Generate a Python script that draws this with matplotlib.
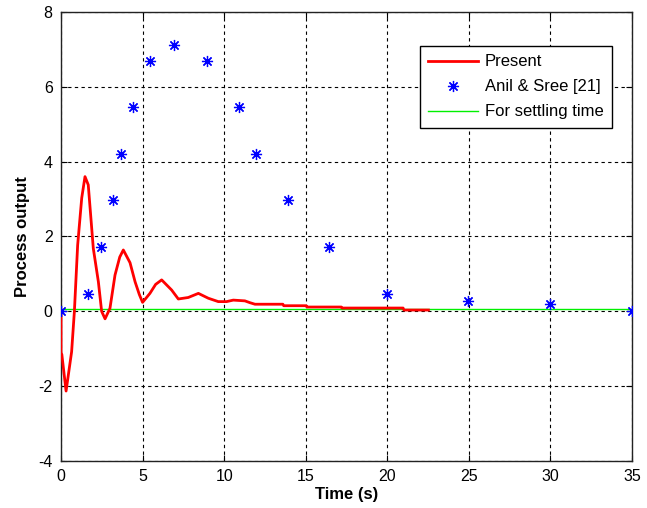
import matplotlib.pyplot as plt

plt.rcParams['font.family'] = ['Liberation Sans', 'DejaVu Sans']
plt.rcParams['axes.unicode_minus'] = False

# present controller response
t_present = [0, 0.0, 0.05, 0.31, 0.65, 0.82, 1.02, 1.27, 1.47, 1.67, 1.98, 2.29,
             2.49, 2.7, 3.0, 3.31, 3.6, 3.82, 4.23, 4.54, 4.8, 5.0, 5.45, 5.8,
             6.17, 6.78, 7.19, 7.8, 8.42, 9.03, 9.64, 10.15, 10.56, 11.27, 11.59,
             11.89, 13.6, 13.65, 15.03, 15.08, 17.18, 17.23, 20.97, 21.02, 22.52]
y_present = [0, -1.12, -1.15, -2.13, -1.08, 0, 1.77, 3.03, 3.6, 3.38, 1.68, 0.79,
             0, -0.2, 0.08, 0.97, 1.45, 1.64, 1.3, 0.79, 0.45, 0.24, 0.48, 0.72,
             0.84, 0.57, 0.33, 0.37, 0.48, 0.35, 0.26, 0.26, 0.30, 0.28, 0.23,
             0.19, 0.19, 0.15, 0.15, 0.115, 0.115, 0.088, 0.088, 0.035, 0.035]

# Anil & Sree [21]
t_anil = [0, 1.65, 2.45, 3.2, 3.7, 4.4, 5.45, 6.9, 8.95, 10.9, 11.95, 13.9,
          16.4, 20, 24.95, 30, 35]
y_anil = [0, 0.45, 1.72, 2.97, 4.2, 5.47, 6.7, 7.12, 6.7, 5.47, 4.2, 2.97,
          1.72, 0.45, 0.28, 0.2, 0]

# settling band
t_settle = [0, 35]
y_settle = [0.06, 0.06]

fig = plt.figure(figsize=(6.47, 5.08), dpi=100)
ax = fig.add_axes([0.0943, 0.0925, 0.8825, 0.8839])

ax.plot(t_present, y_present, color='red', lw=2, label='Present', zorder=3)
ax.plot(t_anil, y_anil, linestyle='none', marker=(8, 2, 0), markersize=8,
        markeredgewidth=0.9, color='blue', label='Anil & Sree [21]', zorder=4)
ax.plot(t_settle, y_settle, color='#00f000', lw=1, label='For settling time', zorder=2)

ax.set_xlim(0, 35)
ax.set_ylim(-4, 8)
ax.set_xticks(range(0, 36, 5))
ax.set_yticks(range(-4, 9, 2))
ax.grid(True, color='black', linestyle=(0, (3, 3)), lw=0.8)
ax.tick_params(direction='in', top=True, right=True, labelsize=11.5, length=4)
ax.tick_params(axis='x', pad=6)
ax.tick_params(axis='y', pad=6)
for s in ax.spines.values():
    s.set_linewidth(1)
    s.set_color('#222222')

ax.set_xlabel('Time (s)', fontsize=12, fontweight='bold', labelpad=2)
ax.set_ylabel('Process output', fontsize=12, fontweight='bold', labelpad=6)

leg = ax.legend(loc='upper right', bbox_to_anchor=(0.965, 0.924), borderaxespad=0,
                fontsize=12, fancybox=False, framealpha=1, edgecolor='black',
                handlelength=3, handletextpad=0.4, labelspacing=0.6, borderpad=0.5)
leg.get_frame().set_linewidth(1)

fig.savefig('out.png', dpi=100)
